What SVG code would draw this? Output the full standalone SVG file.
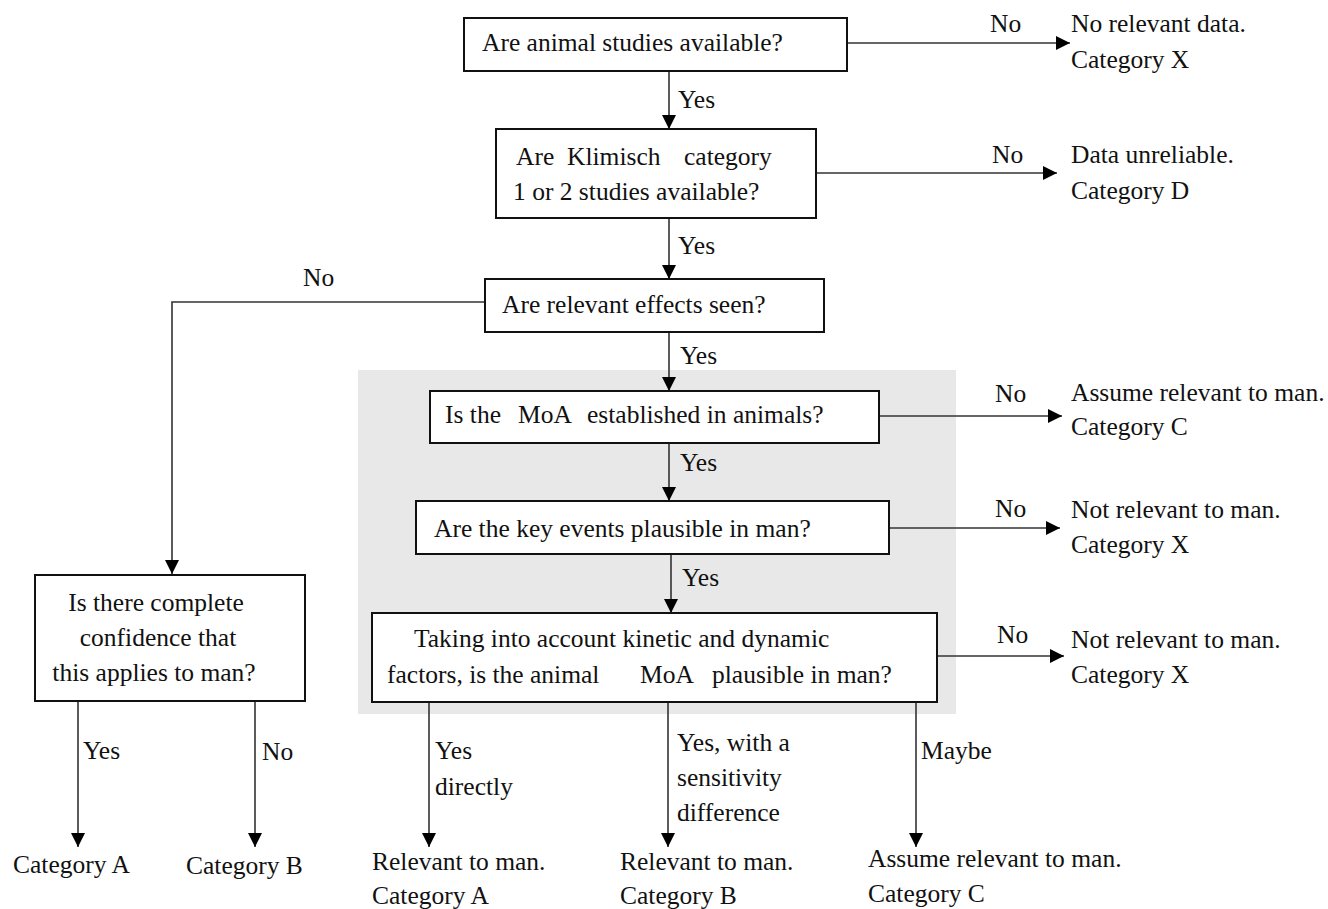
<svg xmlns="http://www.w3.org/2000/svg" width="1328" height="909" viewBox="0 0 1328 909">
  <style>
    text { font-family: "Liberation Serif", "Times New Roman", serif; font-size: 25.5px; fill: #111; }
    .box { fill: #fff; stroke: #111; stroke-width: 2; }
    .link { fill: none; stroke: #333; stroke-width: 1.6; marker-end: url(#arrow); }
  </style>
  <defs>
    <marker id="arrow" markerUnits="userSpaceOnUse" markerWidth="14" markerHeight="14" refX="14" refY="7" orient="auto">
      <path d="M0,0 L14,7 L0,14 z" fill="#000"/>
    </marker>
  </defs>

  <rect width="1328" height="909" fill="#fff"/>

  <!-- shaded block: mode-of-action questions -->
  <rect id="moa-panel" x="358" y="370" width="598" height="344" fill="#e8e8e8"/>

  <!-- connectors -->
  <g id="connectors">
    <line class="link" x1="669" y1="71" x2="669" y2="129"/>
    <line class="link" x1="669" y1="218" x2="669" y2="279"/>
    <line class="link" x1="669" y1="332" x2="669" y2="391"/>
    <line class="link" x1="669" y1="443" x2="669" y2="501"/>
    <line class="link" x1="671" y1="554" x2="671" y2="613"/>

    <line class="link" x1="847" y1="43" x2="1070" y2="43"/>
    <line class="link" x1="816" y1="173" x2="1057" y2="173"/>
    <line class="link" x1="879" y1="416" x2="1062" y2="416"/>
    <line class="link" x1="889" y1="528" x2="1060" y2="528"/>
    <line class="link" x1="937" y1="656" x2="1064" y2="656"/>

    <polyline class="link" points="485,302 172,302 172,574"/>

    <line class="link" x1="78" y1="701" x2="78" y2="847"/>
    <line class="link" x1="255" y1="701" x2="255" y2="847"/>

    <line class="link" x1="429" y1="702" x2="429" y2="847"/>
    <line class="link" x1="668" y1="702" x2="668" y2="847"/>
    <line class="link" x1="916" y1="702" x2="916" y2="847"/>

    <!-- branch labels -->
    <text x="678" y="108">Yes</text>
    <text x="678" y="254">Yes</text>
    <text x="680" y="364">Yes</text>
    <text x="680" y="471">Yes</text>
    <text x="682" y="586">Yes</text>

    <text x="990" y="32">No</text>
    <text x="992" y="163">No</text>
    <text x="303" y="286">No</text>
    <text x="995" y="402">No</text>
    <text x="995" y="517">No</text>
    <text x="997" y="643">No</text>

    <text x="83" y="759">Yes</text>
    <text x="262" y="760">No</text>

    <text x="435" y="759">Yes</text>
    <text x="435" y="795">directly</text>
    <text x="677" y="751">Yes, with a</text>
    <text x="677" y="786">sensitivity</text>
    <text x="677" y="821">difference</text>
    <text x="921" y="759">Maybe</text>
  </g>

  <!-- decision nodes -->
  <g id="q-animal-studies">
    <rect class="box" x="464" y="18" width="383" height="53"/>
    <text x="482" y="51">Are animal studies available?</text>
  </g>

  <g id="q-klimisch">
    <rect class="box" x="496" y="129" width="320" height="89"/>
    <text y="165"><tspan x="516">Are </tspan><tspan x="567">Klimisch </tspan><tspan x="684">category</tspan></text>
    <text x="513" y="200">1 or 2 studies available?</text>
  </g>

  <g id="q-effects">
    <rect class="box" x="485" y="279" width="339" height="53"/>
    <text x="502" y="313">Are relevant effects seen?</text>
  </g>

  <g id="q-moa">
    <rect class="box" x="430" y="391" width="449" height="52"/>
    <text y="423"><tspan x="445">Is the </tspan><tspan x="518">MoA </tspan><tspan x="587">established in animals?</tspan></text>
  </g>

  <g id="q-key-events">
    <rect class="box" x="416" y="501" width="473" height="53"/>
    <text x="434" y="537">Are the key events plausible in man?</text>
  </g>

  <g id="q-kinetics">
    <rect class="box" x="372" y="613" width="565" height="89"/>
    <text x="414" y="647">Taking into account kinetic and dynamic</text>
    <text y="683"><tspan x="387">factors, is the animal </tspan><tspan x="640">MoA </tspan><tspan x="712">plausible in man?</tspan></text>
  </g>

  <g id="q-confidence">
    <rect class="box" x="35" y="575" width="270" height="126"/>
    <text x="156" y="611" text-anchor="middle">Is there complete</text>
    <text x="158" y="646" text-anchor="middle">confidence that</text>
    <text x="154" y="681" text-anchor="middle">this applies to man?</text>
  </g>

  <!-- outcomes -->
  <g id="out-no-data">
    <text x="1071" y="32">No relevant data.</text>
    <text x="1071" y="68">Category X</text>
  </g>
  <g id="out-unreliable">
    <text x="1071" y="163">Data unreliable.</text>
    <text x="1071" y="199">Category D</text>
  </g>
  <g id="out-assume-c">
    <text x="1071" y="401">Assume relevant to man.</text>
    <text x="1071" y="435">Category C</text>
  </g>
  <g id="out-not-relevant-1">
    <text x="1071" y="518">Not relevant to man.</text>
    <text x="1071" y="553">Category X</text>
  </g>
  <g id="out-not-relevant-2">
    <text x="1071" y="648">Not relevant to man.</text>
    <text x="1071" y="683">Category X</text>
  </g>
  <g id="out-cat-a-left">
    <text x="13" y="873">Category A</text>
  </g>
  <g id="out-cat-b-left">
    <text x="186" y="874">Category B</text>
  </g>
  <g id="out-relevant-a">
    <text x="372" y="870">Relevant to man.</text>
    <text x="372" y="904">Category A</text>
  </g>
  <g id="out-relevant-b">
    <text x="620" y="870">Relevant to man.</text>
    <text x="620" y="904">Category B</text>
  </g>
  <g id="out-assume-c-bottom">
    <text x="868" y="867">Assume relevant to man.</text>
    <text x="868" y="902">Category C</text>
  </g>
</svg>
